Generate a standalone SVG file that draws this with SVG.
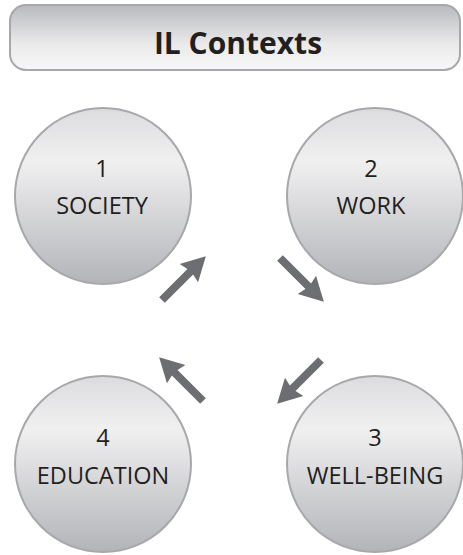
<svg xmlns="http://www.w3.org/2000/svg" width="463" height="555" viewBox="0 0 463 555">
<style>
.node circle{fill:url(#cg);stroke:#a7a8ab;stroke-width:2}
.lbl{font-family:"Open Sans","Noto Sans",sans-serif;font-size:23.5px;fill:#231f20;text-anchor:middle}
.title{font-family:"Open Sans","Noto Sans",sans-serif;font-size:30px;font-weight:bold;fill:#231f20;text-anchor:middle}
.arr{fill:#6d6e71}
</style>
<defs>
<linearGradient id="cg" x1="0" y1="0" x2="0" y2="1">
<stop offset="0" stop-color="#dcdcde"/>
<stop offset="0.3" stop-color="#f0f0f1"/>
<stop offset="1" stop-color="#b3b4b8"/>
</linearGradient>
<linearGradient id="tg" x1="0" y1="0" x2="0" y2="1">
<stop offset="0" stop-color="#b9babd"/>
<stop offset="0.6" stop-color="#eaeaeb"/>
<stop offset="1" stop-color="#f7f7f7"/>
</linearGradient>
<polygon id="arrow" class="arr" points="0,-4 40,-4 38,-13 62,0 38,13 40,4 0,4"/>
</defs>
<g id="title">
<rect x="10" y="5" width="450" height="65" rx="16" fill="url(#tg)" stroke="#a7a8ab" stroke-width="2"/>
<text class="title" x="238" y="54">IL Contexts</text>
</g>
<g id="society" class="node">
<circle cx="103" cy="196" r="88"/>
<text class="lbl" x="102" y="177">1</text>
<text class="lbl" x="102" y="214">SOCIETY</text>
</g>
<g id="work" class="node">
<circle cx="375" cy="196" r="88"/>
<text class="lbl" x="371" y="177">2</text>
<text class="lbl" x="371" y="214">WORK</text>
</g>
<g id="wellbeing" class="node">
<circle cx="375" cy="464" r="88"/>
<text class="lbl" x="375" y="446">3</text>
<text class="lbl" x="375" y="484">WELL-BEING</text>
</g>
<g id="education" class="node">
<circle cx="103" cy="464" r="88"/>
<text class="lbl" x="103" y="446">4</text>
<text class="lbl" x="103" y="484">EDUCATION</text>
</g>
<g id="connectors">
<use href="#arrow" transform="translate(162,300) rotate(-45)"/>
<use href="#arrow" transform="translate(280,258) rotate(45)"/>
<use href="#arrow" transform="translate(321,360) rotate(135)"/>
<use href="#arrow" transform="translate(203,401) rotate(-135)"/>
</g>
</svg>
